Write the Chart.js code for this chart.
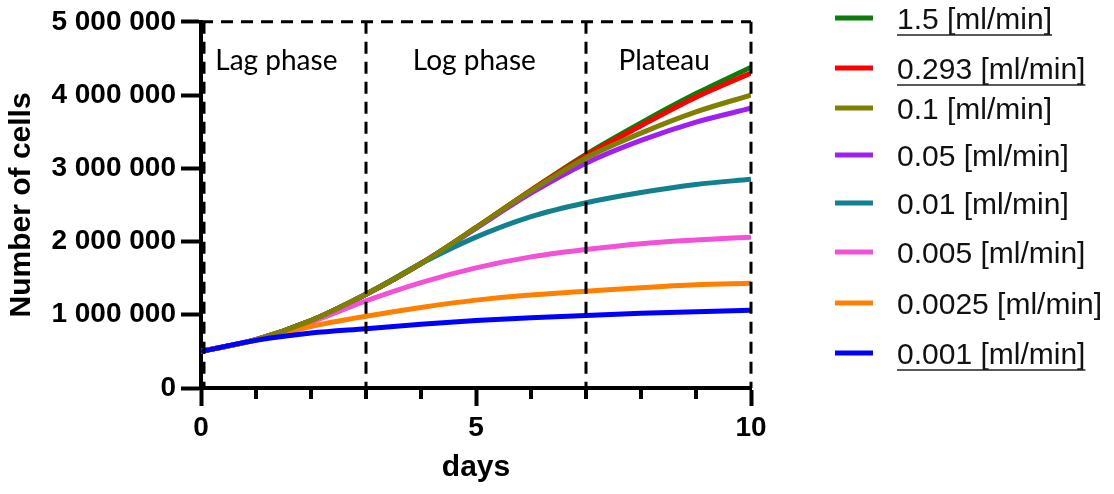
<!DOCTYPE html>
<html lang="en">
<head>
  <meta charset="UTF-8" />
  <title>Number of cells vs days</title>
  <script src="https://cdn.jsdelivr.net/npm/chart.js"></script>
  <style>
    html, body { margin: 0; padding: 0; background: #fff; }
    canvas { display: block; }
  </style>
</head>
<body>
  <canvas id="cellChart" width="1114" height="494"></canvas>

  <script>
    // values, in cells, one point per day
    const days = [0, 1, 2, 3, 4, 5, 6, 7, 8, 9, 10];
    const flow1_5    = [500000, 660000, 920000, 1280000, 1700000, 2190000, 2700000, 3190000, 3620000, 4020000, 4380000];
    const flow0_293  = [500000, 660000, 920000, 1280000, 1700000, 2190000, 2700000, 3170000, 3580000, 3970000, 4300000];
    const flow0_1    = [500000, 660000, 920000, 1280000, 1700000, 2190000, 2690000, 3140000, 3480000, 3770000, 4000000];
    const flow0_05   = [500000, 660000, 920000, 1280000, 1700000, 2180000, 2660000, 3070000, 3380000, 3630000, 3820000];
    const flow0_01   = [500000, 660000, 920000, 1280000, 1700000, 2060000, 2340000, 2530000, 2670000, 2780000, 2850000];
    const flow0_005  = [500000, 660000, 900000, 1190000, 1440000, 1640000, 1790000, 1890000, 1970000, 2020000, 2060000];
    const flow0_0025 = [500000, 650000, 840000, 980000, 1100000, 1200000, 1270000, 1320000, 1370000, 1410000, 1430000];
    const flow0_001  = [500000, 650000, 750000, 810000, 870000, 920000, 960000, 990000, 1020000, 1040000, 1060000];

    const seriesLabels = ['1.5 [ml/min]', '0.293 [ml/min]', '0.1 [ml/min]', '0.05 [ml/min]',
                          '0.01 [ml/min]', '0.005 [ml/min]', '0.0025 [ml/min]', '0.001 [ml/min]'];
    const seriesColors = ['#0a7d0a', '#ff0000', '#808000', '#a020f0',
                          '#13808f', '#f252d8', '#ff8000', '#0000ff'];
    const seriesValues = [flow1_5, flow0_293, flow0_1, flow0_05, flow0_01, flow0_005, flow0_0025, flow0_001];
    // lower order = drawn on top
    const drawOrder = [7, 6, 1, 5, 4, 3, 2, 0];

    const phaseBounds = [0, 3, 7, 10];
    const phaseNames = ['Lag phase', 'Log phase', 'Plateau'];

    const fmt = v => String(v).replace(/\B(?=(\d{3})+(?!\d))/g, ' ');

    // dashed frame, phase boundaries and phase names
    const phasePlugin = {
      id: 'phases',
      afterDatasetsDraw(chart) {
        const {ctx, scales: {x, y}} = chart;
        const top = y.getPixelForValue(5000000);
        const bottom = y.getPixelForValue(0);
        ctx.save();
        ctx.strokeStyle = '#000';
        ctx.lineWidth = 3;
        ctx.setLineDash([12, 8]);
        ctx.beginPath();
        ctx.moveTo(x.getPixelForValue(0), top);
        ctx.lineTo(x.getPixelForValue(10), top);
        ctx.stroke();
        phaseBounds.forEach(d => {
          const px = x.getPixelForValue(d) + (d === 0 ? 3 : 0);
          ctx.beginPath();
          ctx.moveTo(px, top);
          ctx.lineTo(px, bottom);
          ctx.stroke();
        });
        ctx.setLineDash([]);
        ctx.fillStyle = '#000';
        ctx.font = '28px Lato';
        ctx.textAlign = 'center';
        ctx.textBaseline = 'middle';
        const centers = [1.37, 4.97, 8.42];
        phaseNames.forEach((name, i) => {
          ctx.fillText(name, x.getPixelForValue(centers[i]), y.getPixelForValue(4470000));
        });
        ctx.restore();
      },
      afterDraw(chart) {
        // shorter minor ticks on the x axis
        const {ctx, scales: {x, y}} = chart;
        const base = y.getPixelForValue(0);
        ctx.save();
        ctx.strokeStyle = '#000';
        ctx.lineWidth = 4;
        days.forEach(d => {
          if (d % 5 === 0) return;
          const px = x.getPixelForValue(d);
          ctx.beginPath();
          ctx.moveTo(px, base);
          ctx.lineTo(px, base + 11);
          ctx.stroke();
        });
        ctx.restore();
      }
    };

    // legend at the right, built from the datasets
    const legendPlugin = {
      id: 'sideLegend',
      afterDraw(chart) {
        const {ctx} = chart;
        const rows = [18, 68, 108, 155, 203, 252, 303, 353];
        const underlined = [true, true, false, false, false, false, false, true];
        ctx.save();
        ctx.font = '30px "Liberation Sans"';
        ctx.textBaseline = 'middle';
        ctx.textAlign = 'left';
        chart.data.datasets.forEach((ds, i) => {
          const ry = rows[i];
          ctx.strokeStyle = ds.borderColor;
          ctx.lineWidth = 5;
          ctx.beginPath();
          ctx.moveTo(835, ry);
          ctx.lineTo(873, ry);
          ctx.stroke();
          ctx.fillStyle = '#111';
          ctx.fillText(ds.label, 897, ry + 3);
          if (underlined[i]) {
            const w = ctx.measureText(ds.label).width;
            ctx.strokeStyle = '#222';
            ctx.lineWidth = 1.5;
            ctx.beginPath();
            ctx.moveTo(897, ry + 17);
            ctx.lineTo(897 + w, ry + 17);
            ctx.stroke();
          }
        });
        ctx.restore();
      }
    };

    const datasets = seriesValues.map((vals, i) => ({
      label: seriesLabels[i],
      data: vals.map((v, j) => ({x: days[j], y: v})),
      borderColor: seriesColors[i],
      backgroundColor: seriesColors[i],
      borderWidth: 5,
      pointRadius: 0,
      cubicInterpolationMode: 'monotone',
      fill: false,
      order: drawOrder[i]
    }));

    const ctx = document.getElementById('cellChart').getContext('2d');
    new Chart(ctx, {
      type: 'line',
      data: { datasets: datasets },
      options: {
        responsive: false,
        animation: false,
        layout: { padding: { top: 20, right: 363, left: 0, bottom: 0 } },
        plugins: {
          legend: { display: false },
          tooltip: { enabled: false }
        },
        scales: {
          x: {
            type: 'linear',
            min: 0,
            max: 10,
            afterFit(scale) { scale.height = 106; },
            border: { display: true, width: 4, color: '#000' },
            grid: { drawOnChartArea: false, tickLength: 18, tickWidth: 4, tickColor: '#000' },
            ticks: {
              stepSize: 5,
              color: '#000',
              padding: 5,
              font: { family: '"Liberation Sans"', size: 28, weight: 'bold' }
            },
            title: {
              display: true,
              text: 'days',
              color: '#000',
              padding: { top: 0, bottom: 8 },
              font: { family: '"Liberation Sans"', size: 30, weight: 'bold' }
            }
          },
          y: {
            min: 0,
            max: 5000000,
            afterFit(scale) { scale.width = 201; },
            border: { display: true, width: 4, color: '#000' },
            grid: { drawOnChartArea: false, tickLength: 20, tickWidth: 4, tickColor: '#000' },
            ticks: {
              stepSize: 1000000,
              color: '#000',
              padding: 5,
              font: { family: '"Liberation Sans"', size: 28, weight: 'bold' },
              callback: v => fmt(v)
            },
            title: {
              display: true,
              text: 'Number of cells',
              color: '#000',
              padding: { top: 4, bottom: 0 },
              font: { family: '"Liberation Sans"', size: 30, weight: 'bold' }
            }
          }
        }
      },
      plugins: [phasePlugin, legendPlugin]
    });
  </script>
</body>
</html>
